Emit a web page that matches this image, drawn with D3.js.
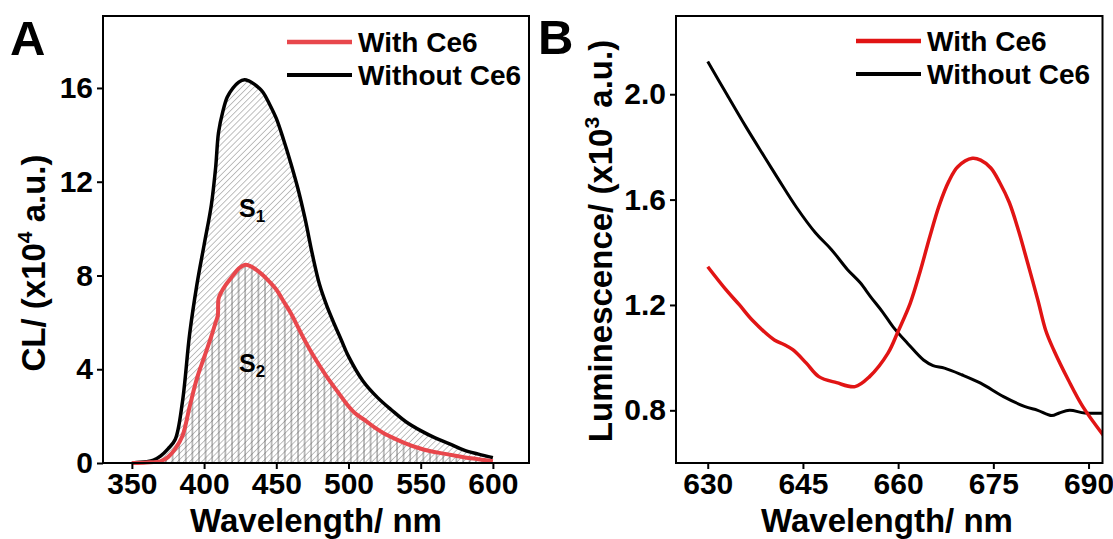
<!DOCTYPE html>
<html>
<head>
<meta charset="utf-8">
<script src="https://cdn.jsdelivr.net/npm/d3@7.9.0/dist/d3.min.js"></script>
<style>
  body { margin: 0; background: #fff; }
  svg { display: block; font-family: "Liberation Sans", Arial, sans-serif; font-weight: bold; }
  .tick line { stroke: #000; stroke-width: 2; }
</style>
</head>
<body>
<svg id="chart" width="1113" height="539"></svg>
<script>
// Panel A: CL spectra (x10^4 a.u.)
const aWithoutX = [350, 360, 365, 370, 375, 380, 385, 390, 395, 400, 405, 408, 410, 413, 416, 420, 424, 428, 431, 435, 438, 441, 445, 450, 455, 460, 465, 470, 475, 480, 485, 490, 495, 500, 510, 520, 530, 540, 550, 560, 570, 580, 590, 600];
const aWithoutY = [0, 0.05, 0.12, 0.3, 0.6, 1.0, 2.6, 5.5, 7.6, 9.3, 11.0, 12.6, 14.1, 15.0, 15.6, 16.0, 16.25, 16.35, 16.3, 16.15, 16.0, 15.8, 15.35, 14.7, 13.8, 12.8, 11.7, 10.4, 8.9, 7.6, 6.7, 5.95, 5.25, 4.55, 3.5, 2.8, 2.25, 1.75, 1.38, 1.07, 0.82, 0.55, 0.38, 0.23];

const aWithX = [350, 360, 370, 375, 380, 385, 390, 395, 400, 405, 408, 409.5, 410, 412, 415, 420, 424, 428, 432, 436, 441, 445, 450, 455, 460, 465, 470, 475, 480, 487, 493, 499, 505, 512, 518, 525, 532, 539, 548, 557, 566, 575, 585, 595, 600];
const aWithY = [0, 0.02, 0.08, 0.25, 0.6, 1.15, 2.4, 3.6, 4.5, 5.4, 6.0, 6.3, 7.0, 7.3, 7.6, 8.0, 8.3, 8.45, 8.4, 8.25, 8.0, 7.75, 7.4, 6.9, 6.4, 5.8, 5.2, 4.65, 4.15, 3.5, 3.0, 2.5, 2.1, 1.8, 1.52, 1.25, 1.04, 0.85, 0.65, 0.5, 0.4, 0.3, 0.2, 0.12, 0.08];

const aXTicks = [350, 400, 450, 500, 550, 600];
const aYTicks = [0, 4, 8, 12, 16];

// Panel B: luminescence (x10^3 a.u.)
const bWithoutX = [630, 633, 636, 639, 641.2, 644, 647, 649.5, 652, 654, 655.7, 657.5, 659.2, 661.5, 664, 665.5, 667.3, 670, 673, 676.6, 680, 682, 684.2, 685.4, 687, 689.4, 692.5];
const bWithoutY = [2.124, 2.0, 1.877, 1.76, 1.675, 1.57, 1.473, 1.41, 1.335, 1.285, 1.23, 1.175, 1.117, 1.054, 0.991, 0.97, 0.96, 0.935, 0.903, 0.852, 0.814, 0.8, 0.78, 0.79, 0.8, 0.79, 0.789];

const bWithX = [630, 632.9, 635, 637, 640.5, 642, 643.4, 645.5, 647.5, 650.3, 653.2, 655.5, 658.4, 660, 661.9, 663.5, 665, 666.5, 668, 669.4, 671.7, 673, 674.6, 676, 677.5, 679, 680.4, 682, 683.3, 684.5, 686.8, 689.1, 692.5];
const bWithY = [1.345, 1.257, 1.2, 1.143, 1.067, 1.05, 1.03, 0.98, 0.928, 0.905, 0.89, 0.928, 1.017, 1.1, 1.206, 1.33, 1.46, 1.58, 1.67, 1.725, 1.757, 1.75, 1.72, 1.665, 1.59, 1.48, 1.36, 1.22, 1.1, 1.03, 0.916, 0.814, 0.7];

const bXTicks = [630, 645, 660, 675, 690];
const bYTicks = [0.8, 1.2, 1.6, 2.0];

const legendLabels = ['With Ce6', 'Without Ce6'];

const zip = (xs, ys) => xs.map((x, i) => ({ x, y: ys[i] }));

const svg = d3.select('#chart');
const defs = svg.append('defs');

// hatch patterns
defs.append('pattern')
  .attr('id', 'diag')
  .attr('patternUnits', 'userSpaceOnUse')
  .attr('width', 4.3).attr('height', 10)
  .attr('patternTransform', 'rotate(45)')
  .append('line')
  .attr('x1', 0).attr('y1', 0).attr('x2', 0).attr('y2', 10)
  .attr('stroke', '#555').attr('stroke-width', 0.8);

defs.append('pattern')
  .attr('id', 'vert')
  .attr('patternUnits', 'userSpaceOnUse')
  .attr('width', 6.6).attr('height', 10)
  .append('line')
  .attr('x1', 1).attr('y1', 0).attr('x2', 1).attr('y2', 10)
  .attr('stroke', '#555').attr('stroke-width', 0.8);

function drawFrame(g, x, y, xTicks, yTicks, yFormat) {
  const [x0, x1] = x.range();
  const [y0, y1] = y.range();

  const styleTicks = a => {
    a.select('.domain').remove();
    a.attr('font-family', null).attr('font-size', null);
    a.selectAll('text').style('font-size', '30px').style('font-weight', 'bold').attr('fill', '#000');
  };

  g.append('g')
    .attr('transform', `translate(0,${y0})`)
    .call(d3.axisBottom(x).tickValues(xTicks).tickSize(6).tickSizeOuter(0).tickPadding(4))
    .call(styleTicks);

  g.append('g')
    .attr('transform', `translate(${x0},0)`)
    .call(d3.axisLeft(y).tickValues(yTicks).tickFormat(yFormat).tickSize(6).tickSizeOuter(0).tickPadding(4))
    .call(styleTicks);

  g.append('rect')
    .attr('x', x0).attr('y', y1)
    .attr('width', x1 - x0).attr('height', y0 - y1)
    .attr('fill', 'none').attr('stroke', '#000').attr('stroke-width', 2);
}

function drawLegend(g, x, y, colors, widths) {
  legendLabels.forEach((label, i) => {
    const yy = y + i * 33;
    g.append('line')
      .attr('x1', x).attr('x2', x + 65)
      .attr('y1', yy).attr('y2', yy)
      .attr('stroke', colors[i]).attr('stroke-width', widths[i]);
    g.append('text')
      .attr('x', x + 71).attr('y', yy + 10)
      .attr('font-size', 28)
      .text(label);
  });
}

function yTitle(g, cx, cy, main, sup, rest) {
  const t = g.append('text')
    .attr('transform', `translate(${cx},${cy}) rotate(-90)`)
    .attr('text-anchor', 'middle')
    .attr('font-size', 33);
  t.append('tspan').text(main);
  t.append('tspan').attr('font-size', 21).attr('dy', -13).text(sup);
  t.append('tspan').attr('dy', 13).text(rest);
}

function renderA() {
  const g = svg.append('g');
  const x = d3.scaleLinear().domain([330, 625]).range([103, 529]);
  const y = d3.scaleLinear().domain([0, 19.07]).range([463, 16]);

  const area = d3.area().x(d => x(d.x)).y0(y(0)).y1(d => y(d.y)).curve(d3.curveCatmullRom);
  const line = d3.line().x(d => x(d.x)).y(d => y(d.y)).curve(d3.curveCatmullRom);

  const without = zip(aWithoutX, aWithoutY);
  const withCe6 = zip(aWithX, aWithY);

  g.append('path').datum(without).attr('d', area).attr('fill', 'url(#diag)');
  g.append('path').datum(withCe6).attr('d', area).attr('fill', 'url(#vert)');

  g.append('path').datum(without).attr('d', line)
    .attr('fill', 'none').attr('stroke', '#000').attr('stroke-width', 3.5);
  g.append('path').datum(withCe6).attr('d', line)
    .attr('fill', 'none').attr('stroke', '#e8474c').attr('stroke-width', 4);

  drawFrame(g, x, y, aXTicks, aYTicks, d3.format('d'));
  drawLegend(g, 287, 42, ['#e8474c', '#000'], [4.5, 4]);

  // area labels
  const s1 = g.append('text').attr('x', 239).attr('y', 217).attr('font-size', 25);
  s1.append('tspan').text('S');
  s1.append('tspan').attr('font-size', 17).attr('dy', 5).text('1');
  const s2 = g.append('text').attr('x', 239).attr('y', 372).attr('font-size', 25);
  s2.append('tspan').text('S');
  s2.append('tspan').attr('font-size', 17).attr('dy', 5).text('2');

  g.append('text').attr('x', 316).attr('y', 532)
    .attr('text-anchor', 'middle').attr('font-size', 33)
    .text('Wavelength/ nm');
  yTitle(g, 45, 263, 'CL/ (x10', '4', ' a.u.)');

  g.append('text').attr('x', 10).attr('y', 55).attr('font-size', 49).text('A');
}

function renderB() {
  const g = svg.append('g');
  const x = d3.scaleLinear().domain([625, 692.2]).range([676, 1102.5]);
  const y = d3.scaleLinear().domain([0.6, 2.297]).range([463, 16]);

  defs.append('clipPath').attr('id', 'clipB')
    .append('rect').attr('x', 676).attr('y', 16).attr('width', 426.5).attr('height', 447);

  const line = d3.line().x(d => x(d.x)).y(d => y(d.y)).curve(d3.curveCatmullRom);
  const plot = g.append('g').attr('clip-path', 'url(#clipB)');

  plot.append('path').datum(zip(bWithoutX, bWithoutY)).attr('d', line)
    .attr('fill', 'none').attr('stroke', '#000').attr('stroke-width', 3);
  plot.append('path').datum(zip(bWithX, bWithY)).attr('d', line)
    .attr('fill', 'none').attr('stroke', '#e11414').attr('stroke-width', 3.5);

  drawFrame(g, x, y, bXTicks, bYTicks, d3.format('.1f'));
  drawLegend(g, 856, 41, ['#e11414', '#000'], [4.5, 4]);

  g.append('text').attr('x', 887).attr('y', 532)
    .attr('text-anchor', 'middle').attr('font-size', 33)
    .text('Wavelength/ nm');
  yTitle(g, 612, 241, 'Luminescence/ (x10', '3', ' a.u.)');

  g.append('text').attr('x', 538).attr('y', 54).attr('font-size', 49).text('B');
}

renderA();
renderB();
</script>
</body>
</html>
